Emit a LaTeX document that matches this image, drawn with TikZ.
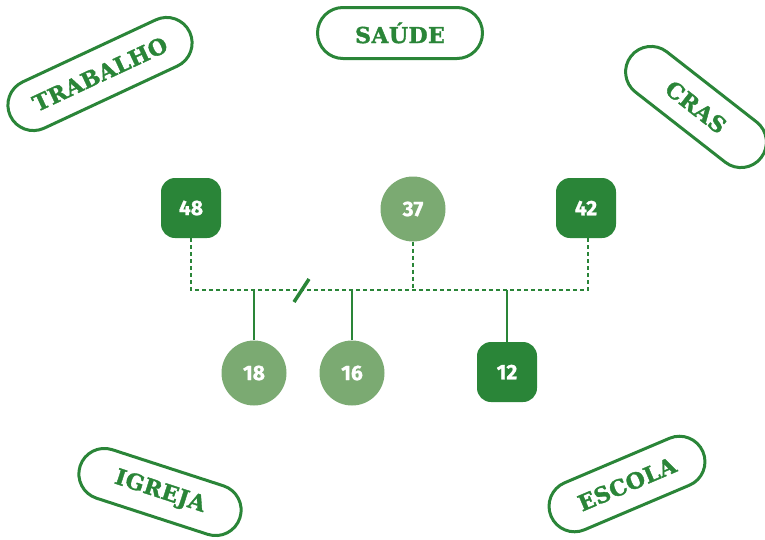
\documentclass[tikz,border=0pt]{standalone}
\usepackage{fontspec}
\newfontfamily\lblfont{DejaVu Serif}[LetterSpace=2, BoldFeatures={FakeBold=1.6}]
\newfontfamily\numfont{Fira Sans}[BoldFeatures={FakeBold=1}]
\definecolor{dkg}{HTML}{2A8538}
\definecolor{ltg}{HTML}{7BAA72}
\tikzset{
  pill/.style={draw=dkg, line width=3pt, rounded corners=25.5pt, minimum height=51pt, text=dkg, font=\lblfont\bfseries\fontsize{22}{22}\selectfont, inner sep=0pt},
  sqbox/.style={fill=dkg, rounded corners=14pt, minimum width=60pt, minimum height=60pt, text=white, font=\numfont\bfseries\fontsize{21}{21}\selectfont, inner sep=0pt},
  circbox/.style={circle, fill=ltg, minimum size=65pt, text=white, font=\numfont\bfseries\fontsize{21}{21}\selectfont, inner sep=0pt},
  dashline/.style={draw=dkg, line width=2pt, dash pattern=on 4pt off 3pt},
  solidline/.style={draw=dkg, line width=2pt},
}
\begin{document}
\begin{tikzpicture}[x=1pt, y=-1pt]
\useasboundingbox (0,0) rectangle (765,539);
% label pills
\node[pill, minimum width=165pt] (saude) at (400,33) {SAÚDE};
\node[pill, minimum width=198pt, rotate=25] (trab) at (100,74) {TRABALHO};
\node[pill, minimum width=165pt, rotate=-38] (cras) at (696,107) {CRAS};
\node[pill, minimum width=168pt, rotate=-18] (igreja) at (160,492) {IGREJA};
\node[pill, minimum width=165pt, rotate=23] (escola) at (627,484) {ESCOLA};
% number nodes
\node[sqbox] (n48) at (191,208) {48};
\node[circbox] (n37) at (413,209) {37};
\node[sqbox] (n42) at (586,208) {42};
\node[circbox] (n18) at (254,373) {18};
\node[circbox] (n16) at (352,373) {16};
\node[sqbox] (n12) at (507,372) {12};
% bus coordinates
\coordinate (bl) at (191,290);
\coordinate (br) at (588,290);
\draw[dashline] (n48.south) -- (bl) -- (br) -- (n42.south -| br);
\draw[dashline] (n37.south) -- (n37.south |- bl);
\draw[solidline] (n18.north) -- (n18.north |- bl);
\draw[solidline] (n16.north) -- (n16.north |- bl);
\draw[solidline] (n12.north) -- (n12.north |- bl);
% slash mark
\coordinate (s1) at (294,302);
\coordinate (s2) at (309,279);
\draw[dkg, line width=3.5pt] (s1) -- (s2);
\end{tikzpicture}
\end{document}
